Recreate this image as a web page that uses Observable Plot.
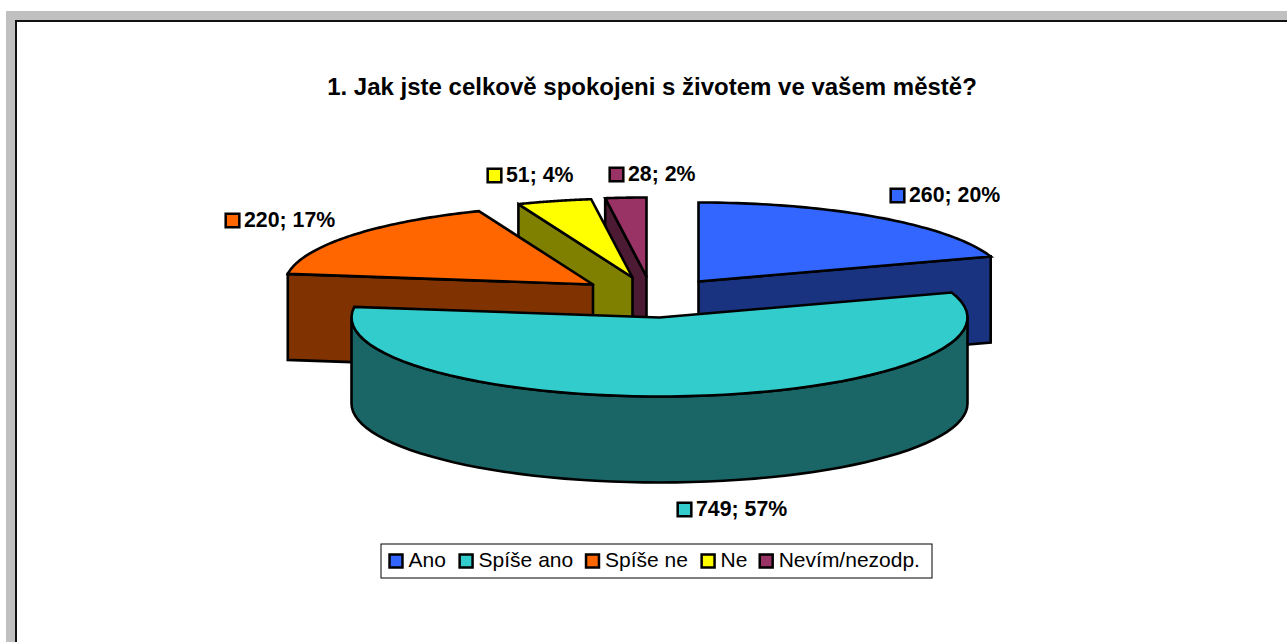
<!DOCTYPE html>
<html><head><meta charset="utf-8">
<script src="https://cdn.jsdelivr.net/npm/d3@7"></script>
<script src="https://cdn.jsdelivr.net/npm/@observablehq/plot@0.6"></script>
<style>
html,body{margin:0;padding:0;background:#fff;width:1287px;height:642px;overflow:hidden}
#gray{position:absolute;left:6px;top:11px;right:0;bottom:0;background:#c0c0c0}
#paper{position:absolute;left:15px;top:20px;right:0;bottom:0;background:#fff;border-left:2px solid #111;border-top:2px solid #111}
#chart{position:absolute;left:0;top:0}
#chart svg{background:transparent}
</style></head><body>
<div id="gray"></div><div id="paper"></div><div id="chart"></div>
<script>
const title = "1. Jak jste celkově spokojeni s životem ve vašem městě?";
const categories = ["Ano", "Spíše ano", "Spíše ne", "Ne", "Nevím/nezodp."];
const counts = [260, 749, 220, 51, 28];
const topColors = ["#3366FF", "#33CCCC", "#FF6600", "#FFFF00", "#993366"];
const sideColors = ["#1A3380", "#1A6666", "#803300", "#808000", "#4D1A33"];

// layout of the exploded 3-D pie (pixels)
const rx = 308, ry = 79, depth = 86;
const apexX = [698, 659, 592.5, 632, 646];
const apexY = [281, 317, 284, 277, 276];
const labelMarkX = [897, 684, 232, 494, 616];
const labelMarkY = [195, 509, 220, 175, 174];
const legendMarkX = [395.5, 465.6, 592, 707.6, 765.7];
const legendY = 560.5;

const total = d3.sum(counts);
const cum = d3.cumsum(counts);
const startA = counts.map((c, i) => (cum[i] - c) / total * 2 * Math.PI);
const endA = counts.map((c, i) => cum[i] / total * 2 * Math.PI);
const rim = (i, a, dz = 0) => ({x: apexX[i] + rx * Math.sin(a), y: apexY[i] - ry * Math.cos(a) + dz});
const apex = (i, dz = 0) => ({x: apexX[i], y: apexY[i] + dz});
const arc = (i, a0, a1, dz = 0) => d3.range(0, 61).map(k => rim(i, a0 + (a1 - a0) * k / 60, dz));
const close = pts => [...pts, pts[0]];
const topFace = i => close([apex(i), ...arc(i, startA[i], endA[i])]);
const radialFace = (i, a) => close([apex(i), rim(i, a), rim(i, a, depth), apex(i, depth)]);
const rimFace = (i, a0, a1) => close([...arc(i, a0, a1), ...arc(i, a0, a1, depth).reverse()]);

const outline = {x: "x", y: "y", stroke: "#000", strokeWidth: 2.6, strokeLinejoin: "miter", strokeMiterlimit: 3};
const face = (pts, fill) => Plot.line(pts, {...outline, fill});

// back to front
const slices = [
  face(radialFace(4, startA[4]), sideColors[4]), face(topFace(4), topColors[4]),
  face(radialFace(3, startA[3]), sideColors[3]), face(topFace(3), topColors[3]),
  face(radialFace(0, endA[0]), sideColors[0]), face(topFace(0), topColors[0]),
  face(radialFace(2, startA[2]), sideColors[2]), face(topFace(2), topColors[2]),
  face(rimFace(1, Math.PI / 2, 3 * Math.PI / 2), sideColors[1]), face(topFace(1), topColors[1])
];

const rows = categories.map((c, i) => ({
  category: c, count: counts[i], color: topColors[i],
  label: `${counts[i]}; ${Math.round(counts[i] / total * 100)}%`,
  mx: labelMarkX[i], my: labelMarkY[i], lx: legendMarkX[i]
}));
const font = "Liberation Sans, Arial, sans-serif";
const key = {symbol: "square", r: 7.7, stroke: "#000", strokeWidth: 2.5};

const chart = Plot.plot({
  width: 1287, height: 642, margin: 0,
  x: {domain: [0, 1287], range: [0, 1287], axis: null},
  y: {domain: [0, 642], range: [0, 642], axis: null},
  style: {background: "transparent", fontFamily: font},
  marks: [
    slices,
    Plot.text([title], {x: () => 651.5, y: () => 86.5, text: d => d, fontSize: 24, fontWeight: "bold", fill: "#000"}),
    Plot.dot(rows, {x: "mx", y: "my", fill: "color", ...key}),
    Plot.text(rows, {x: d => d.mx + 11.5, y: d => d.my - 0.5, text: "label", textAnchor: "start", fontSize: 21.3, fontWeight: "bold", fill: "#000"}),
    Plot.rect([0], {x1: () => 381, x2: () => 932, y1: () => 544, y2: () => 578, fill: "#fff", stroke: "#000", strokeWidth: 1}),
    Plot.dot(rows, {x: "lx", y: () => legendY, fill: "color", ...key, r: 7.3}),
    Plot.text(rows, {x: d => d.lx + 12.5, y: () => legendY - 0.5, text: "category", textAnchor: "start", fontSize: 21, fill: "#000"})
  ]
});
document.getElementById("chart").append(chart);
</script></body></html>
